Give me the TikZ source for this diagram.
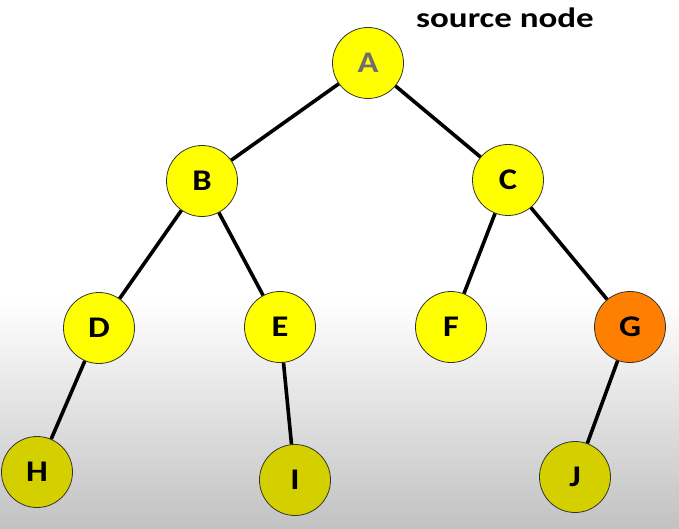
\documentclass[tikz,border=0pt]{standalone}
\usepackage{fontspec}
\newfontfamily\letterfont{Carlito}[FakeStretch=1.15]
\newfontfamily\notefont{Carlito}[FakeStretch=1.25]
\usetikzlibrary{calc}
\definecolor{nodeyellow}{RGB}{255,255,0}
\definecolor{nodeshade}{RGB}{212,208,0}
\definecolor{nodeorange}{RGB}{255,128,0}
\definecolor{labelgray}{RGB}{110,110,110}
\tikzset{
  tree-node/.style={
    circle,
    draw=black!80,
    line width=0.8pt,
    minimum size=71pt,
    inner sep=0pt,
    font=\letterfont\bfseries\fontsize{30}{30}\selectfont
  },
  node-yellow/.style={tree-node, fill=nodeyellow},
  node-dark/.style={tree-node, fill=nodeshade},
  node-orange/.style={tree-node, fill=nodeorange},
  edge/.style={line width=3.6pt}
}

\begin{document}
\begin{tikzpicture}[x=1pt,y=-1pt]
  \useasboundingbox (0,0) rectangle (679,529);
  \fill[white] (0,0) rectangle (679,300);
  \shade[top color=white, bottom color=black!24] (0,300) rectangle (679,529);

  % Nodes
  \node[node-yellow, text=labelgray] (A) at (368,63) {A};
  \node[node-yellow] (B) at (202,181) {B};
  \node[node-yellow] (C) at (508,180) {C};
  \node[node-yellow] (D) at (99,328) {D};
  \node[node-yellow] (E) at (280,327) {E};
  \node[node-yellow] (F) at (451,327) {F};
  \node[node-orange] (G) at (630,327) {G};
  \node[node-dark] (H) at (37,472) {H};
  \node[node-dark] (I) at (295,480) {I};
  \node[node-dark] (J) at (575,477) {J};

  % Edges
  \foreach \u/\v in {A/B,A/C,B/D,B/E,C/F,C/G,D/H,E/I,G/J}{
    \draw[edge] (\u) -- (\v);
  }

  \node[anchor=base, font=\notefont\bfseries\fontsize{28}{28}\selectfont] (note) at (505,28) {source node};
\end{tikzpicture}
\end{document}
